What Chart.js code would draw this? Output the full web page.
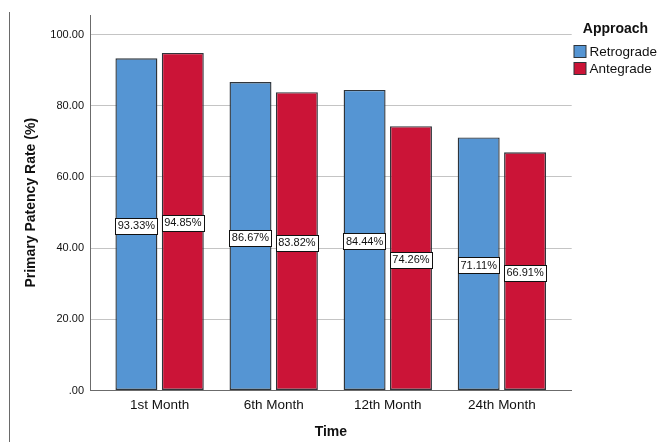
<!DOCTYPE html>
<html>
<head>
<meta charset="utf-8">
<title>Primary Patency Rate by Approach</title>
<script src="https://cdn.jsdelivr.net/npm/chart.js@4/dist/chart.umd.min.js"></script>
<style>
  html, body { margin: 0; padding: 0; background: #fff; }
  #wrap { width: 661px; height: 442px; position: relative; }
</style>
</head>
<body>
<div id="wrap"><canvas id="chart" width="661" height="442"></canvas></div>
<script>
// Follow-up time points
const categories = ['1st Month', '6th Month', '12th Month', '24th Month'];
// Primary patency (%) for each approach
const retrograde = [93.33, 86.67, 84.44, 71.11];
const antegrade = [94.85, 83.82, 74.26, 66.91];
// Value-axis ticks
const yTicks = [0, 20, 40, 60, 80, 100];

const FONT = "'Liberation Sans', Arial, Helvetica, sans-serif";
const BLUE = '#5595d3';
const RED = '#cb1437';
const EDGE = '#2f353b';

const seriesNames = ['Retrograde', 'Antegrade'];
const seriesColors = [BLUE, RED];

// Percentage boxes in the middle of each bar
const valueBoxes = {
  id: 'valueBoxes',
  afterDatasetsDraw(chart) {
    const ctx = chart.ctx;
    ctx.save();
    ctx.font = '11px ' + FONT;
    ctx.textAlign = 'center';
    ctx.textBaseline = 'middle';
    chart.data.datasets.forEach((ds, di) => {
      const meta = chart.getDatasetMeta(di);
      meta.data.forEach((bar, i) => {
        const txt = ds.data[i].y.toFixed(2) + '%';
        const cy = (bar.y + bar.base) / 2 + 1.5;
        const w = ctx.measureText(txt).width + 5;
        const h = 16;
        const x0 = Math.round(bar.x - w / 2) + 0.5;
        const y0 = Math.round(cy - h / 2) + 0.5;
        ctx.fillStyle = '#fff';
        ctx.fillRect(x0, y0, Math.round(w), h);
        ctx.strokeStyle = '#111';
        ctx.lineWidth = 1;
        ctx.strokeRect(x0, y0, Math.round(w), h);
        ctx.fillStyle = '#111';
        ctx.fillText(txt, bar.x, cy + 0.5);
      });
    });
    ctx.restore();
  }
};

// Legend block with heading on the right, plus the outer frame line on the left
const sideDecor = {
  id: 'sideDecor',
  afterDraw(chart) {
    const ctx = chart.ctx;
    ctx.save();
    // frame line
    ctx.strokeStyle = '#6a6a6a';
    ctx.lineWidth = 1;
    ctx.beginPath();
    ctx.moveTo(9.5, 12);
    ctx.lineTo(9.5, 442);
    ctx.stroke();

    // legend heading
    ctx.fillStyle = '#111';
    ctx.font = 'bold 14px ' + FONT;
    ctx.textAlign = 'center';
    ctx.textBaseline = 'middle';
    ctx.fillText('Approach', 615.5, 29);

    // legend entries
    ctx.font = '13.5px ' + FONT;
    ctx.textAlign = 'left';
    const rows = [45.5, 62.5];
    seriesNames.forEach((name, i) => {
      const y = rows[i];
      ctx.fillStyle = seriesColors[i];
      ctx.fillRect(574, y, 12, 12);
      ctx.strokeStyle = EDGE;
      ctx.strokeRect(574, y, 12, 12);
      ctx.fillStyle = '#111';
      ctx.fillText(name, 589.5, y + 7);
    });
    ctx.restore();
  }
};

const datasets = [retrograde, antegrade].map((vals, si) => ({
  label: seriesNames[si],
  data: vals.map((v, i) => ({ x: i, y: v })),
  backgroundColor: seriesColors[si],
  borderColor: EDGE,
  borderWidth: 1.4,
  borderSkipped: false,
  categoryPercentage: 0.813,
  barPercentage: 0.905
}));

new Chart(document.getElementById('chart'), {
  type: 'bar',
  data: { datasets },
  options: {
    responsive: false,
    animation: false,
    events: [],
    layout: { padding: { top: 15, left: 0, right: 89.3, bottom: 0 } },
    plugins: {
      legend: { display: false },
      tooltip: { enabled: false }
    },
    scales: {
      x: {
        type: 'linear',
        min: -0.61,
        max: 3.612,
        offset: false,
        afterBuildTicks(scale) {
          scale.ticks = categories.map((_, i) => ({ value: i }));
        },
        afterFit(scale) { scale.height = 51.5; },
        ticks: {
          autoSkip: false,
          maxRotation: 0,
          padding: 7,
          color: '#111',
          font: { family: FONT, size: 13.5 },
          callback: (v) => categories[v]
        },
        grid: { display: false, drawTicks: false },
        border: { display: true, color: '#6b6b6b', width: 1 },
        title: {
          display: true,
          text: 'Time',
          color: '#111',
          font: { family: FONT, size: 14, weight: 'bold', lineHeight: 1.2 },
          padding: { top: 0, bottom: 1 }
        }
      },
      y: {
        min: 0,
        max: 105.5,
        afterBuildTicks(scale) {
          scale.ticks = yTicks.map((v) => ({ value: v }));
        },
        afterFit(scale) { scale.width = 90; },
        ticks: {
          padding: 6,
          color: '#111',
          font: { family: FONT, size: 11 },
          callback: (v) => (v === 0 ? '.00' : Number(v).toFixed(2))
        },
        grid: {
          drawTicks: false,
          color: (c) => (c.tick && c.tick.value === 0 ? 'rgba(0,0,0,0)' : '#c4c4c4'),
          lineWidth: 1
        },
        border: { display: true, color: '#6b6b6b', width: 1 },
        title: {
          display: true,
          text: 'Primary Patency Rate (%)',
          color: '#111',
          font: { family: FONT, size: 14, weight: 'bold', lineHeight: 1.2 },
          padding: { top: 22.3, bottom: 0 }
        }
      }
    }
  },
  plugins: [valueBoxes, sideDecor]
});
</script>
</body>
</html>
